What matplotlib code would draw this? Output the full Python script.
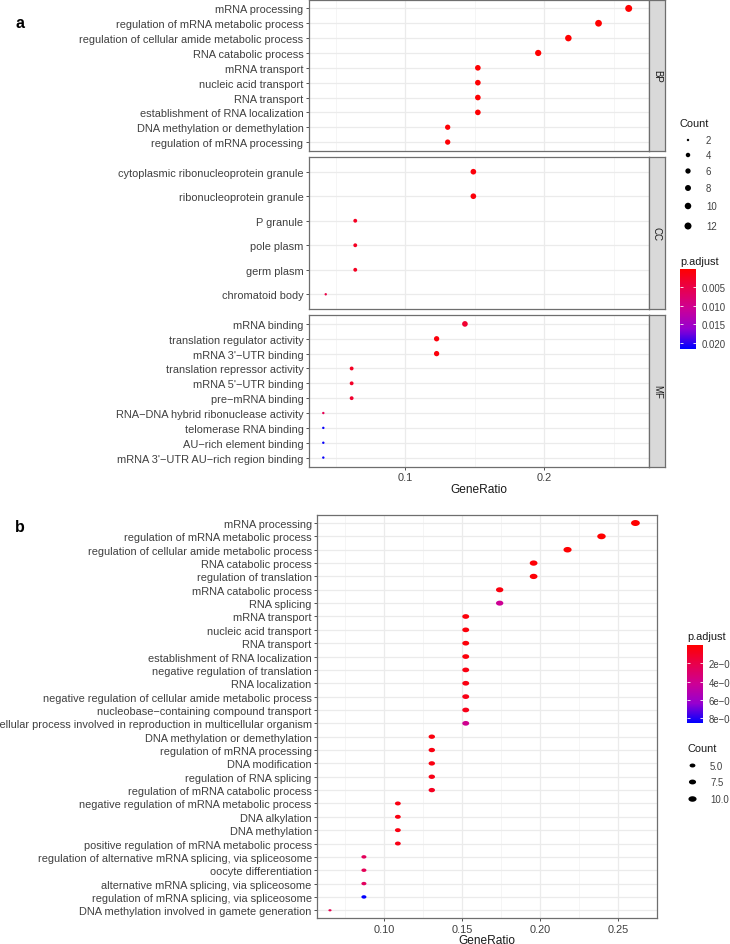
import numpy as np
import matplotlib
matplotlib.use("Agg")
import matplotlib.pyplot as plt
from matplotlib.colors import LinearSegmentedColormap, Normalize
from matplotlib.cm import ScalarMappable
from matplotlib.ticker import MultipleLocator, FormatStrFormatter

plt.rcParams["font.family"] = ["Liberation Sans", "DejaVu Sans"]

# panel a: GO enrichment split by ontology
bp_terms = ["mRNA processing", "regulation of mRNA metabolic process",
            "regulation of cellular amide metabolic process", "RNA catabolic process",
            "mRNA transport", "nucleic acid transport", "RNA transport",
            "establishment of RNA localization", "DNA methylation or demethylation",
            "regulation of mRNA processing"]
bp_ratio = ["12/46", "11/46", "10/46", "9/46", "7/46", "7/46", "7/46", "7/46", "6/46", "6/46"]
bp_padj = [0.00002, 0.00003, 0.00004, 0.0001, 0.0003, 0.0003, 0.0003, 0.0003, 0.0004, 0.0004]

cc_terms = ["cytoplasmic ribonucleoprotein granule", "ribonucleoprotein granule",
            "P granule", "pole plasm", "germ plasm", "chromatoid body"]
cc_ratio = ["7/47", "7/47", "3/47", "3/47", "3/47", "2/47"]
cc_padj = [0.0008, 0.0008, 0.0025, 0.0025, 0.0025, 0.0048]

mf_terms = ["mRNA binding", "translation regulator activity", "mRNA 3'\u2212UTR binding",
            "translation repressor activity", "mRNA 5'\u2212UTR binding", "pre\u2212mRNA binding",
            "RNA\u2212DNA hybrid ribonuclease activity", "telomerase RNA binding",
            "AU\u2212rich element binding", "mRNA 3'\u2212UTR AU\u2212rich region binding"]
mf_ratio = ["7/49", "6/49", "6/49", "3/49", "3/49", "3/49", "2/49", "2/49", "2/49", "2/49"]
mf_padj = [0.0035, 0.0009, 0.0009, 0.0025, 0.0028, 0.0033, 0.0058, 0.0212, 0.0212, 0.0212]

a_count_breaks = [2, 4, 6, 8, 10, 12]
a_padj_ticks = [0.005, 0.010, 0.015, 0.020]
a_padj_range = (0.0001, 0.0215)

# panel b: biological process terms
b_terms = ["mRNA processing", "regulation of mRNA metabolic process",
           "regulation of cellular amide metabolic process", "RNA catabolic process",
           "regulation of translation", "mRNA catabolic process", "RNA splicing",
           "mRNA transport", "nucleic acid transport", "RNA transport",
           "establishment of RNA localization", "negative regulation of translation",
           "RNA localization", "negative regulation of cellular amide metabolic process",
           "nucleobase\u2212containing compound transport",
           "cellular process involved in reproduction in multicellular organism",
           "DNA methylation or demethylation", "regulation of mRNA processing",
           "DNA modification", "regulation of RNA splicing", "regulation of mRNA catabolic process",
           "negative regulation of mRNA metabolic process", "DNA alkylation", "DNA methylation",
           "positive regulation of mRNA metabolic process",
           "regulation of alternative mRNA splicing, via spliceosome", "oocyte differentiation",
           "alternative mRNA splicing, via spliceosome", "regulation of mRNA splicing, via spliceosome",
           "DNA methylation involved in gamete generation"]
b_ratio = ["12/46", "11/46", "10/46", "9/46", "9/46", "8/46", "8/46", "7/46", "7/46", "7/46",
           "7/46", "7/46", "7/46", "7/46", "7/46", "7/46", "6/46", "6/46", "6/46", "6/46",
           "6/46", "5/46", "5/46", "5/46", "5/46", "4/46", "4/46", "4/46", "4/46", "3/46"]
b_padj = [0.000002, 0.000005, 0.00001, 0.00002, 0.00002, 0.00004, 0.00042, 0.00003, 0.00003,
          0.00003, 0.00003, 0.00005, 0.00005, 0.00006, 0.00007, 0.00040, 0.00004, 0.00005,
          0.00005, 0.00006, 0.00009, 0.00005, 0.00005, 0.00005, 0.00006, 0.00025, 0.00024,
          0.00026, 0.00085, 0.00022]

b_count_breaks = [5.0, 7.5, 10.0]
b_padj_ticks = [0.0002, 0.0004, 0.0006, 0.0008]
b_padj_range = (0.000002, 0.00085)

W, H = 730, 945
fig = plt.figure(figsize=(7.3, 9.45), dpi=100)


def box(x0, y0, x1, y1):
    return [x0 / W, 1 - y1 / H, (x1 - x0) / W, (y1 - y0) / H]


def parse(ratios):
    counts = np.array([int(r.split("/")[0]) for r in ratios])
    totals = np.array([int(r.split("/")[1]) for r in ratios])
    return counts, counts / totals


cmap = LinearSegmentedColormap.from_list(
    "padj", ["#FF0000", "#E8004E", "#CC0096", "#9600D0", "#0000FF"])

text_col = "#404040"
tick_fs = 7.9
leg_fs = 6.9


def size_a(c):
    d = 2.4 + 4.6 * np.sqrt((np.asarray(c, float) - 2) / 10)
    return (d * 0.72) ** 2


theta = np.linspace(0, 2 * np.pi, 41)
ellipse = np.column_stack([np.cos(theta), 0.68 * np.sin(theta)])


def size_b(c):
    w = 3.2 + 5.6 * np.sqrt((np.asarray(c, float) - 3) / 9)
    return (w * 0.72) ** 2


def style(ax, n, xlim, major, minor):
    ax.set_xlim(*xlim)
    ax.set_ylim(n - 0.4, -0.6)
    ax.xaxis.set_major_locator(MultipleLocator(major))
    ax.xaxis.set_minor_locator(MultipleLocator(minor))
    ax.grid(True, which="major", color="#EBEBEB", lw=0.9)
    ax.grid(True, which="minor", axis="x", color="#F2F2F2", lw=0.5)
    ax.set_axisbelow(True)
    ax.tick_params(axis="both", which="major", length=2.5, width=0.6, color="#333333",
                   labelcolor=text_col, labelsize=tick_fs, pad=1.5)
    ax.tick_params(axis="x", which="minor", length=0)
    for sp in ax.spines.values():
        sp.set_color("#6E6E6E")
        sp.set_linewidth(0.9)


norm_a = Normalize(*a_padj_range)
facets = [("BP", bp_terms, bp_ratio, bp_padj, 0.5, 152),
          ("CC", cc_terms, cc_ratio, cc_padj, 158, 310),
          ("MF", mf_terms, mf_ratio, mf_padj, 316, 467.5)]

for name, terms, ratio, padj, top, bottom in facets:
    ax = fig.add_axes(box(309, top, 649, bottom))
    count, gr = parse(ratio)
    ypos = np.arange(len(terms))
    ax.scatter(gr, ypos, s=size_a(count), c=padj, cmap=cmap, norm=norm_a,
               linewidths=0, zorder=3)
    style(ax, len(terms), (0.0305, 0.2755), 0.1, 0.05)
    ax.set_yticks(ypos)
    ax.set_yticklabels(terms)
    if name == "MF":
        ax.set_xlabel("GeneRatio", fontsize=8.6, color="#1A1A1A", labelpad=1)
    else:
        ax.tick_params(axis="x", which="both", length=0, labelbottom=False)
    strip = fig.add_axes(box(649, top, 665, bottom))
    strip.set_facecolor("#D9D9D9")
    strip.set_xticks([])
    strip.set_yticks([])
    for sp in strip.spines.values():
        sp.set_color("#6E6E6E")
        sp.set_linewidth(0.9)
    strip.text(0.5, 0.5, name, rotation=-90, ha="center", va="center",
               fontsize=7, color="#1A1A1A", transform=strip.transAxes)

# panel b
norm_b = Normalize(*b_padj_range)
axb = fig.add_axes(box(317.3, 516, 656.7, 919.3))
count_b, gr_b = parse(b_ratio)
ypos_b = np.arange(len(b_terms))
axb.scatter(gr_b, ypos_b, s=size_b(count_b), c=b_padj, cmap=cmap, norm=norm_b,
            marker=ellipse, linewidths=0, zorder=3)
style(axb, len(b_terms), (0.0571, 0.2745), 0.05, 0.025)
axb.set_yticks(ypos_b)
axb.set_yticklabels(b_terms)
axb.xaxis.set_major_formatter(FormatStrFormatter("%.2f"))
axb.set_xlabel("GeneRatio", fontsize=8.6, color="#1A1A1A", labelpad=0)

# legends drawn on an overlay in pixel units
over = fig.add_axes([0, 0, 1, 1])
over.set_xlim(0, W)
over.set_ylim(H, 0)
over.axis("off")

fig.text(15 / W, 1 - 23 / H, "a", fontsize=11.5, fontweight="bold", va="center")
fig.text(15 / W, 1 - 527 / H, "b", fontsize=11.5, fontweight="bold", va="center")

# panel a Count legend
over.text(680, 124, "Count", fontsize=7.9, color="#1A1A1A", va="center")
ya = [141, 156, 172, 189, 207, 227]
over.scatter([688] * len(a_count_breaks), ya, s=size_a(a_count_breaks), c="black", linewidths=0)
for y, v in zip(ya, a_count_breaks):
    over.text(706, y, str(v), fontsize=leg_fs, color=text_col, va="center")


def colorbar(x0, y0, x1, y1, norm, ticks, labels):
    cax = fig.add_axes(box(x0, y0, x1, y1))
    cb = fig.colorbar(ScalarMappable(norm=norm, cmap=cmap), cax=cax)
    cb.ax.invert_yaxis()
    cb.outline.set_visible(False)
    cb.set_ticks(ticks)
    cb.set_ticklabels(labels)
    cax.tick_params(axis="y", direction="in", length=2.5, width=0.6, color="white",
                    left=True, right=True, labelsize=leg_fs, labelcolor=text_col, pad=4)


over.text(680, 262, "p.adjust", fontsize=7.9, color="#1A1A1A", va="center")
colorbar(680, 270, 696, 349.5, norm_a, a_padj_ticks, ["0.005", "0.010", "0.015", "0.020"])

# panel b legends
over.text(687, 637, "p.adjust", fontsize=7.9, color="#1A1A1A", va="center")
colorbar(687, 646, 703, 724, norm_b, b_padj_ticks,
         ["2e\u221204", "4e\u221204", "6e\u221204", "8e\u221204"])

over.text(687, 749, "Count", fontsize=7.9, color="#1A1A1A", va="center")
yb = [766.5, 783, 800]
over.scatter([692.5] * len(b_count_breaks), yb, s=size_b(b_count_breaks), c="black",
             marker=ellipse, linewidths=0)
for y, v in zip(yb, b_count_breaks):
    over.text(710, y, f"{v:.1f}", fontsize=leg_fs, color=text_col, va="center")

fig.savefig("out.png", dpi=100)
